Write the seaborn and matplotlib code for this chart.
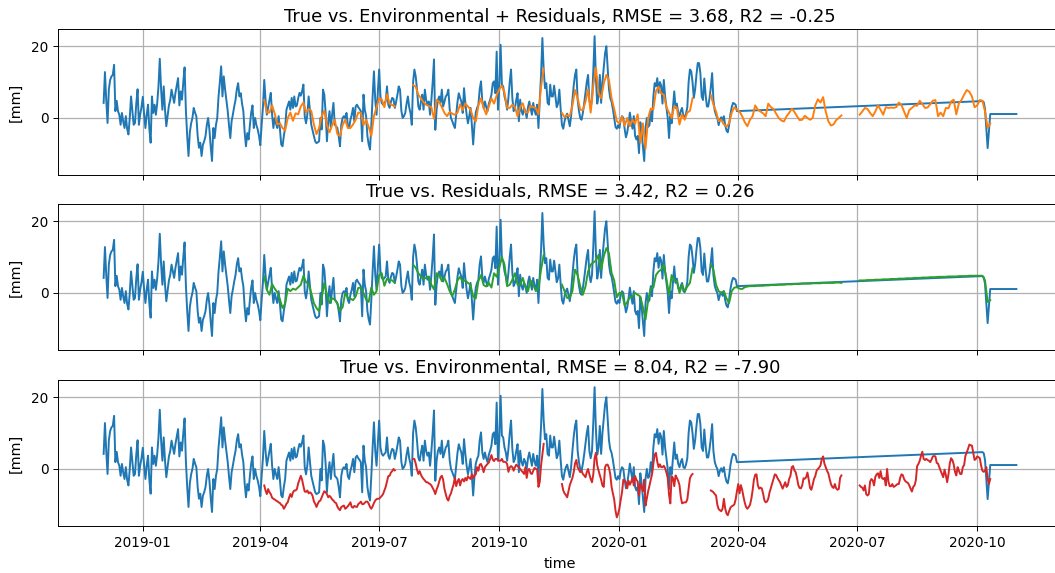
import matplotlib
matplotlib.use("Agg")
import matplotlib.pyplot as plt
import matplotlib.dates as mdates
import pandas as pd
import seaborn as sns

# ---- observed displacement [mm], daily from the first record ----
true_start = "2018-12-02"
true_daily = [
    4.2, 12.8, 5, -1.4, 8, 10.6, 11.6, 12, 14.8, 1.9,
    4.8, 1.9, 0.9, -1.9, 1.4, -1, -2.8, 0.5, -3, -4.6,
    0, 6.0, 2, -1.9, -1.4, 4, 8.0, -1.9, 1, 3,
    5.9, 1, -2.8, 1, 3.7, -3, -6.9, 6.0, 1.4, 3.7,
    0.9, 4, 8.8, 16.5, 8, 2.3, 8.8, 2.3, -2.3, 0.5,
    3.5, 5, 7.9, 6, 4.2, 7, 9, 11.1, 3.5, 7.4,
    5.1, 10, 14.1, 2, -5, -10.6, -4, -1.5, 0, 2.8,
    1.5, 0.5, -5, -8.3, -6.9, -10.6, -7.5, -6.5, -5.1, -2,
    0, -3.2, -8, -12, -2.8, -5.6, -2, 0, 6.0, 10,
    14.4, 6.0, 11.6, 8, 5.1, 2, -2, -5.6, -0.9, 1,
    3.2, 5, 8, 9.7, 6.0, 6.9, 4, 1.9, -4, -7.9,
    -4.2, -6.0, -2, 1.5, 3.5, -2.8, 0, -2, -3.2, -5,
    -7.6, -2, 3, 10.6, 5, 0.9, 3, 5, 7.0, 1,
    -2.8, 0, -1.5, -2.8, 0.5, -3, -7.4, -7.9, -5, -2.8,
    2.3, 3.5, 4.6, 2.3, 5.6, 2.8, 6.0, 3.2, 3.5, 5.5,
    7.0, 6.2, 7.5, 9.3, 0.5, -1.5, 1, 6, 2, -1.9,
    -3.5, -5, -6.5, -7, -6.8, -6.5, 0, -3.2, 7.9, 6.5,
    1.5, -6.5, -1, 1.9, -2.8, 1, 4.2, -1.9, -2.3, -2.8,
    -5, -7.9, -1.9, 0, 0.5, 0, 1.4, -2, -2.8, -0.5,
    0.9, 2.8, -0.9, 3.2, 3.7, 3, 2.5, 1.9, -6.5, 6.5,
    2.3, 0.5, -5, -7.4, -8.8, -2, 6, 13, 5.1, 0.9,
    7, 13.5, 6, 4.2, 3.7, 4.2, 4.6, 8.8, 3.7, 2.8,
    4.5, 5.6, 5.3, 2.8, 4.5, 6.5, 8.8, 7.9, 2, 0,
    0.5, 1.4, 4, 6, 3, 1.4, -1.9, 10, 13.5, 11.6,
    7.9, 3.2, 2.3, 4.5, 6.5, 2.3, 7.9, 5, 3.7, 4.6,
    0.9, 5, 10, 16.3, -3.3, 2.3, 5, 6, 4.2, 7.9,
    3.2, 4.5, 6, 6.5, 7.9, 2.5, 0, -0.9, -1.9, -2.8,
    1, 4.5, 6.9, 5.6, 4.5, 1.4, 8.3, 4.2, 0.9, -1.5,
    0.5, 2.8, -1.9, -7.4, -2, 1.5, 2.8, 3.7, 8, 10.2,
    4.6, 2.8, 4.6, 3, 1.9, 4, 5.1, 6.5, 9.7, 10.2,
    6.9, 18.5, 2.3, 8.3, 20.4, 9.3, 8.8, 6, 4.6, 2.3,
    5.6, 10, 13.5, 5.6, 1.9, 2.8, 5, 6.9, -0.9, 5.1,
    2, 0.9, 2.8, 1.9, 0, 3, 4.6, 2.8, 0.9, 4.2,
    2, 0.9, 3.7, -2.8, 5, 12, 22.3, 13.5, 8.3, 9.7,
    4.2, 3.7, 9.3, 6, 6, 9, 6, 3, 4, 7.9,
    2.5, -2, -3, -0.9, 0.5, 1.2, -0.5, -2.3, 0.5, 5,
    9, 12, 13.5, 5.1, 2, 0, -0.5, 1.4, 4, 7,
    10, 12, 5, 3, 5, 13, 22.8, 11, 4, 6,
    12, 4.2, 10, 14, 18, 20, 14, 8, 5.5, 4.5,
    2.5, 0, -2.5, -3, -2, -2.8, -0.5, 0.5, 0, -3,
    -5.4, -4, -1.5, 1.5, -1, -3, 0.5, -5, -6, -5,
    -9.8, -1.2, -4, -8, -12, -2.8, 0, -2.5, -2, 1.9,
    -0.9, 6, 9.7, 8.8, 11.1, 7, 10, 9, 4, 10.6,
    6, 3, 0, -5.6, 0.5, -1.5, 3, 7.4, 2.8, 4,
    1.5, 0.5, 2, 2.8, 0.5, 0.2, 1.2, 3, 10, 13.5,
    13, 10, 5.6, 8, 12, 15.3, 15.3, 12.5, 6, 5,
    11, 6.5, 3.2, 3.2, 5.5, 8.5, 12.5, 5, 2, 0.8,
    0, -2, -0.5, 0.2, -0.8, 0.5, -2, -3.5, -4, -2,
    1, 3, 4.2, 4, 3.7, 1.9,
]
# sparse observations after the spring 2020 outage
true_tail_dates = ["2020-10-05", "2020-10-06", "2020-10-07", "2020-10-08",
                   "2020-10-09", "2020-10-10", "2020-10-11", "2020-10-31"]
true_tail = [4.7, 4.4, 2.5, -3.0, -8.4, -3.5, 1.1, 1.1]

# ---- model windows (101 days each) ----
window_starts = ["2019-04-04", "2019-07-27", "2019-11-18", "2020-03-11", "2020-07-03"]

# environmental model, daily
env_daily = [
    [-4.6, -6, -7, -5.6, -6.5, -7, -8, -8.3, -8.5, -8.8, -9,
     -9.3, -9.5, -10, -10.2, -11.1, -10.5, -9.7, -9.3, -8, -7,
     -7.8, -6.5, -6, -6, -5.6, -4, -3, -1.9, -3, -4.8,
     -6.3, -6.4, -6, -6.8, -6.5, -6.8, -7.5, -9, -9.7, -10.6,
     -9.7, -9, -8.8, -7.9, -7, -6.2, -6.5, -7, -7.9, -7.5,
     -7.9, -8.5, -8.8, -9.3, -9.5, -10.5, -11.1, -11.5, -10.6, -10.4,
     -10.2, -11.1, -10.8, -10.4, -9.9, -9.3, -10.6, -10.8, -10.3, -10.5,
     -10.6, -9.8, -9.5, -9.1, -9.8, -9.8, -9.4, -9.1, -9.1, -9.7,
     -10.6, -11.1, -10.4, -9.5, -8.8, -8.4, -8.3, -8.3, -7.9, -7.5,
     -7, -6, -5, -3.5, -2, -1.9, -1, -0.6, 0, -0.4],
    [2.8, 2.8, 1.5, -0.2, -1.4, -0.6, -1.6, -2.3, -2.8, -3.2,
     -3.7, -3.7, -4, -4.2, -4.6, -5.3, -6, -7, -5.7, -4.8,
     -3.5, -2.3, -1.9, -3, -5.5, -7, -8.3, -8.8, -7.5, -6.8,
     -5.5, -4.3, -2.4, -4.8, -3.5, -2.8, -4.6, -3.2, -2.8, -3.5,
     -2.5, -3.2, -2, -2.5, -2.8, -1.5, -2.6, -1.8, -1.5, 0.5,
     -0.5, 1.2, 1.4, 0.5, -0.9, 0.5, 1, 1.4, 1.8, 2.8,
     3.9, 2.6, 2.2, 2.8, 2.8, 2.4, 2.3, 2.3, 2.8, 2,
     2, 1.9, 1.4, -0.8, 0.4, 0.8, 0.5, -0.5, 0.5, 1.2,
     0.8, 0.5, 0, -0.5, -0.9, -1.4, 0.5, -2.5, -0.2, 0,
     -1.2, -1.4, -0.5, 0.3, 0, -0.1, -5, -3.6, 1, 4, 7],
    [-4.2, -6, -6.8, -7.3, -7.9, -6.2, -4.5, -3.5, -2.5, -0.9,
     1.5, 2.5, 0.5, -0.2, -0.9, -0.5, -1.4, -1.8, -2.3, -0.9,
     0, -1.5, -2.8, -3.7, -1.5, 3, 4.5, 1, -0.4, -1.7,
     -3, -4.6, -5, 0.5, 1.2, 1.2, 0.3, -1.5, -5, -6.8,
     -8.5, -11.6, -13.5, -12.5, -11, -8.6, -6.5, -3, -3.2, -3.8,
     -5.4, -3.3, -4.4, -3.6, -2.5, -4.6, -2, -3, -3.5, -7.4,
     -4.2, -5, -6.2, -3, -10.2, -8.2, -6.2, -4.7, -3, -1.5,
     1.5, 4, 4.5, 2, 0.5, 1.3, 0.5, 0.5, 0.9, 0.2,
     -1, -2.5, -7.2, -9.6, -2, -2.5, -4.8, -1.8, -2.5, -3.3,
     -4.5, -7.8, -9.6, -9.4, -9.3, -9.3, -8.5, -5.5, -2.6, -1.8, -1.4],
    [-6, -6.2, -6.5, -7, -7.4, -10, -11.2, -11.5, -11.8, -11.1,
     -8.3, -11, -12.4, -12.9, -11.8, -10.8, -10.4, -10.2, -9.9, -8.5,
     -6.2, -4.2, -6.8, -4.5, -5.8, -7.7, -9.4, -10.6, -11.1, -10.6,
     -10, -8.4, -6, -3, -1.6, -1.5, -4.5, -5.5, -5.2, -5.4,
     -6.8, -8.7, -9.3, -9.1, -8.3, -6.5, -5.3, -4, -2.8, -1.5,
     -1.7, -2.5, -3.1, -3.7, -4.6, -5.5, -4.6, -3.7, -5, -4.5,
     -2.8, -1.9, 0.5, 0.8, -0.4, -0.9, -2.5, -4.5, -5.3, -5.4,
     -4.6, -2.6, -2.7, -2.3, -1, -3, -5.3, -5.8, -4.4, -2.8,
     -2, -0.5, 0, 0.4, 1, 2.8, 3.5, 1.5, 0.5, -0.5,
     -1.2, -2.8, -4.2, -5, -5.3, -4.2, -5.4, -5.8, -5.6, -2.5, -1.8],
    [-4.6, -5, -5.2, -6, -4.6, -7, -7.4, -7, -3.5, -2.8,
     -3.2, -4.6, -2.2, -1.5, -1.2, -2.5, -0.6, -2.5, -2.8, -2.5,
     -4.6, 0, -3.5, -4.8, -4.8, -4.2, -5, -4.8, -4.5, -4.2,
     -4.2, -2.5, -1.5, -1.7, -2.8, -3.4, -3.7, -3.9, -4.6, -5.5,
     -6.3, -5, -4.6, -3.2, 0.8, 1.4, 2.3, 3.7, 4.8, 2.8,
     2.5, 2.8, 2.5, 2.3, 1.9, 2.6, 3.5, 3.6, 3.5, 1.7,
     1.5, 0.5, -0.5, -1.4, -2.3, -0.2, -1.7, -3.7, -1.5, 1.5,
     3, 2.5, 1.3, -0.8, -1.8, 0.5, -0.5, -1.4, -1.4, 0.5,
     1.1, 3.7, 4.6, 5.6, 6.8, 6.6, 6.5, 4.5, 2.5, 2.8,
     3.5, 3.3, 3, 0.9, -0.5, -0.8, -0.5, 0.5, -2.8, -4.2, -2.8],
]

# residual model, every second day
resid_2d = [
    [4.6, 0.9, -0.5, 2.5, 1.2, 0.2, -1.8, -4.2, -3, 1.2,
     0.5, 1.2, 0.9, 1.6, 2.3, 4.8, 3, 2.5, 0, -2.8,
     -4.2, -5.1, -1.4, 2.8, -0.5, -2.8, -1.5, -1.8, -3, -5,
     -4, 0, -1.4, -1.6, -2, -1, 1.4, 1.5, 0, -1.8,
     -2.5, 1.5, -0.5, 0.5, 5, 5.5, 2, 4, 3.6, 3.5, 2.8],
    [7.9, 7, 5.5, 4.6, 3.9, 4.2, 4.5, 2.3, 1, 5.5,
     5, 3.3, 4.2, 2.5, 0.5, -0.9, 1, 3.5, 4.5, 3.2,
     3.5, 2.8, 2.2, -1, -1.5, 3.3, 5, 2.2, 1.8, 2.8,
     1.5, 5.5, 4.5, 7, 10, 7.9, 1.9, 2.3, 3.7, 5.5,
     2.3, 2.3, 4.2, 1.7, 0.5, 3.5, 2.3, 0.5, 1.5, 6.5, 10.6],
    [2.3, 0.5, -1.4, -1.3, 0.5, 6.5, 5, 1.8, -0.5, 1.8,
     6, 7.9, 8.5, 9, 10.6, 6.5, 10.2, 12.5, 11, 5.6,
     3.5, -1.2, 0, 0, -3.5, -2.5, -1.2, -1, 0, -0.5,
     -1, -4, -7.4, -2, 1.3, 1.5, 5, 6, 6.5, 7.9,
     4, -0.5, 5, 3.5, 3.3, 0, 2.3, 0.5, 1.8, 2.8, 6.9],
    [7.9, 6.5, 2.3, 0.5, 0, 0.5, -1.5, -2.8, 0.5, 1.5,
     1.6, 1.2, 1.1, 1.6, 1.8, 1.9, 1.9, 1.9, 2.0, 2.0,
     2.0, 2.1, 2.1, 2.2, 2.2, 2.2, 2.3, 2.3, 2.3, 2.4,
     2.4, 2.4, 2.5, 2.5, 2.5, 2.6, 2.6, 2.6, 2.6, 2.7,
     2.7, 2.7, 2.7, 2.8, 2.8, 2.8, 2.8, 2.8, 2.9, 2.9, 2.8],
    [3.5, 3.5, 3.5, 3.6, 3.6, 3.6, 3.7, 3.7, 3.7, 3.8,
     3.8, 3.8, 3.9, 3.9, 3.9, 4.0, 4.0, 4.0, 4.1, 4.1,
     4.1, 4.2, 4.2, 4.2, 4.3, 4.3, 4.3, 4.4, 4.4, 4.4,
     4.5, 4.5, 4.5, 4.5, 4.6, 4.6, 4.6, 4.6, 4.7, 4.7,
     4.7, 4.7, 4.8, 4.8, 4.8, 4.8, 4.8, 4.8, 3.5, -2.5, -2.0],
]

# environmental + residual model, every second day
combined_2d = [
    [5, 1.5, 1.5, 3.5, 1.2, -1.8, -1.5, -2.8, -3.5, 0,
     1.5, -0.8, 1.3, 1, 3.2, 4.3, 1.5, 2.5, 2, -1.8,
     -4.5, -2.8, 0.5, 2, -2, -4, -2, -0.5, -4.5, -5,
     -2, -0.5, -2.8, -2.8, -1.8, -0.5, 1.5, 1.4, -2, -0.5,
     -2.5, -5, 0.5, 3, 5.5, 5.2, 3, 6.6, 4, 3.6, 3.2],
    [9.2, 8.7, 6.5, 5.5, 4.4, 3.7, 3.3, 3, -0.2, 5,
     4.5, 3, 1.4, 0.5, 1.7, 1.2, 0.9, 1.5, 3.8, 2.2,
     4, 3.2, 2.3, 0, -1, 3.5, 5.5, 2.8, 1, 3.2,
     5.5, 4, 6.3, 8, 9, 7, 2.8, 2.8, 3.7, 3,
     0.5, 3, 4.1, 1.5, 1.6, 3.5, 3, 2.8, 1, 8.7, 13.8],
    [1.4, 0.2, 0.8, 0.5, 3.5, 7.8, 5.5, 2.3, 2.2, 4.5,
     8, 1.5, 9, 14, 6.9, 5.5, 9.6, 12, 10.5, 5.5,
     2.5, -0.9, -1.5, 0.4, -2.2, 0, -2.3, -0.5, -1.6, 1,
     -6.9, -1.5, -8.5, 0, 2.6, 2.4, 7.5, 8.7, 6.8, 6.5,
     3, 1.5, 0, 3.3, 2.8, -1.8, 1, -0.5, 1.5, 2, 5.5],
    [6.4, 3.7, 1.8, -0.9, -0.5, -1.8, -2.4, -1.5, 1.5, 3,
     2.3, 1.8, 0.5, -1.2, -2.3, -0.5, 0.5, 3.5, 2.3, 1.8,
     1.3, 0.5, 4, 3, 2.5, 1.2, 0, -0.7, -1, 0.5,
     1.4, 2.6, 1.7, 0.5, -0.6, -0.5, 0.6, 0, -0.5, 0,
     3.5, 5.2, 4.3, 5.8, 1.8, -0.9, -2.1, -1.8, -0.6, 0, 0.7],
    [0.9, 1.8, 2.8, 2.5, 1.4, 0.5, 1.8, 3.5, 2.3, 0.9,
     3, 2.8, 2.9, 2.8, 3, 4.3, 3.6, 1.8, 0, 2.2,
     2.8, 3.5, 3.4, 4.8, 3.9, 2.8, 2.9, 3.8, 4.8, 5,
     0.5, 1.5, 0.5, 2.8, 2.7, 4.6, 5.1, 1, 4.1, 5,
     6.5, 7.8, 7.3, 6, 3, 3.5, 5, 4.8, 1.8, -2.8, -1.5],
]

titles = [
    "True vs. Environmental + Residuals, RMSE = 3.68, R2 = -0.25",
    "True vs. Residuals, RMSE = 3.42, R2 = 0.26",
    "True vs. Environmental, RMSE = 8.04, R2 = -7.90",
]
model_colors = ["#ff7f0e", "#2ca02c", "#d62728"]
true_color = "#1f77b4"

# ---- assemble frames ----
true_df = pd.DataFrame({
    "time": list(pd.date_range(true_start, periods=len(true_daily), freq="D"))
            + list(pd.to_datetime(true_tail_dates)),
    "mm": true_daily + true_tail,
})


def window_frames(segments, step):
    frames = []
    for start, vals in zip(window_starts, segments):
        t = pd.date_range(start, periods=len(vals), freq=f"{step}D")
        frames.append(pd.DataFrame({"time": t, "mm": vals}))
    return frames


model_frames = [
    window_frames(combined_2d, 2),
    window_frames(resid_2d, 2),
    window_frames(env_daily, 1),
]

# ---- figure ----
W, H = 1055, 573
fig, axes = plt.subplots(3, 1, figsize=(W / 100, H / 100), dpi=100, sharex=True)
ax_left, ax_right, ax_h = 58, 1062, 146
ax_tops = [29, 204, 380]
lw = 1.4
tick_fs, label_fs, title_fs = 9.8, 10.4, 12.9

for ax, top, title, frames, col in zip(axes, ax_tops, titles, model_frames, model_colors):
    ax.set_position([ax_left / W, 1 - (top + ax_h) / H, (ax_right - ax_left) / W, ax_h / H])
    sns.lineplot(data=true_df, x="time", y="mm", ax=ax, color=true_color,
                 linewidth=lw, estimator=None, errorbar=None)
    for fr in frames:
        sns.lineplot(data=fr, x="time", y="mm", ax=ax, color=col,
                     linewidth=lw, estimator=None, errorbar=None)
    ax.set_title(title, fontsize=title_fs, pad=5)
    ax.set_ylabel("[mm]", fontsize=label_fs, labelpad=6)
    ax.set_xlabel("")
    ax.set_ylim(-15.9, 24.8)
    ax.set_yticks([0, 20])
    ax.grid(True, color="#b0b0b0", linewidth=0.9)
    ax.tick_params(labelsize=tick_fs, width=0.7, length=3.5)
    for sp in ax.spines.values():
        sp.set_linewidth(0.7)

axes[2].xaxis.set_major_locator(mdates.MonthLocator(bymonth=[1, 4, 7, 10]))
axes[2].xaxis.set_major_formatter(mdates.DateFormatter("%Y-%m"))
axes[2].set_xlabel("time", fontsize=label_fs, labelpad=5.5)

fig.savefig("out.png", dpi=100)
